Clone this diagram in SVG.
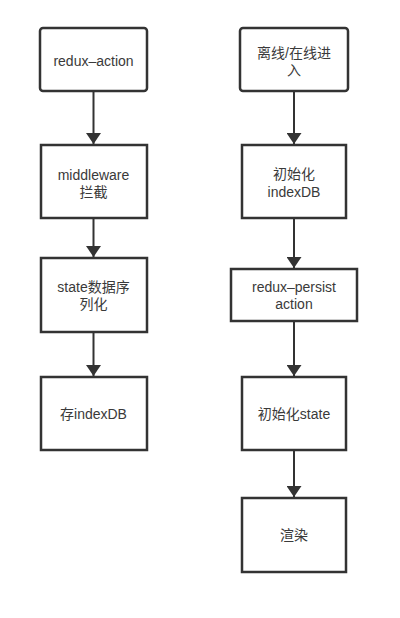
<svg xmlns="http://www.w3.org/2000/svg" width="400" height="618" viewBox="0 0 400 618">
<defs>
<marker id="ah" viewBox="0 0 11 15" refX="11" refY="7.5" markerWidth="11" markerHeight="15" markerUnits="userSpaceOnUse" orient="auto">
<path d="M0,0 L11,7.5 L0,15 Z" fill="#333"/>
</marker>
<style>
.box{fill:#fff;stroke:#333;stroke-width:2.5}
.t{font-family:"Liberation Sans","Noto Sans CJK SC",sans-serif;font-size:14px;fill:#3a3a3a;text-anchor:middle}
.c{stroke:#333;stroke-width:2;fill:none;marker-end:url(#ah)}
</style>
</defs>
<rect width="400" height="618" fill="#fff"/>
<g id="connectors">
<line class="c" x1="93.5" y1="91" x2="93.5" y2="144"/>
<line class="c" x1="93.5" y1="218" x2="93.5" y2="257"/>
<line class="c" x1="93.5" y1="332" x2="93.5" y2="376"/>
<line class="c" x1="294" y1="91" x2="294" y2="144"/>
<line class="c" x1="294" y1="218" x2="294" y2="268"/>
<line class="c" x1="294" y1="321" x2="294" y2="376"/>
<line class="c" x1="294" y1="450" x2="294" y2="497"/>
</g>
<g id="redux-action">
<rect class="box" x="40" y="28" width="107" height="63" rx="3"/>
<text class="t" x="93.5" y="66">redux–action</text>
</g>
<g id="middleware">
<rect class="box" x="41" y="145" width="106" height="73"/>
<text class="t" x="93.5" y="180">middleware</text>
<text class="t" x="93.5" y="197">拦截</text>
</g>
<g id="serialize">
<rect class="box" x="41" y="258" width="106" height="74"/>
<text class="t" x="93.5" y="292">state数据序</text>
<text class="t" x="93.5" y="309">列化</text>
</g>
<g id="store-indexdb">
<rect class="box" x="41" y="377" width="106" height="73"/>
<text class="t" x="93.5" y="419">存indexDB</text>
</g>
<g id="offline-online">
<rect class="box" x="240" y="28" width="108" height="63" rx="3"/>
<text class="t" x="294" y="58">离线/在线进</text>
<text class="t" x="294" y="75">入</text>
</g>
<g id="init-indexdb">
<rect class="box" x="242" y="145" width="104" height="73"/>
<text class="t" x="294" y="179">初始化</text>
<text class="t" x="294" y="197">indexDB</text>
</g>
<g id="redux-persist">
<rect class="box" x="231" y="269" width="126" height="52"/>
<text class="t" x="294" y="292">redux–persist</text>
<text class="t" x="294" y="309">action</text>
</g>
<g id="init-state">
<rect class="box" x="242" y="377" width="104" height="73"/>
<text class="t" x="294" y="419">初始化state</text>
</g>
<g id="render">
<rect class="box" x="242" y="498" width="104" height="74"/>
<text class="t" x="294" y="540">渲染</text>
</g>
</svg>
